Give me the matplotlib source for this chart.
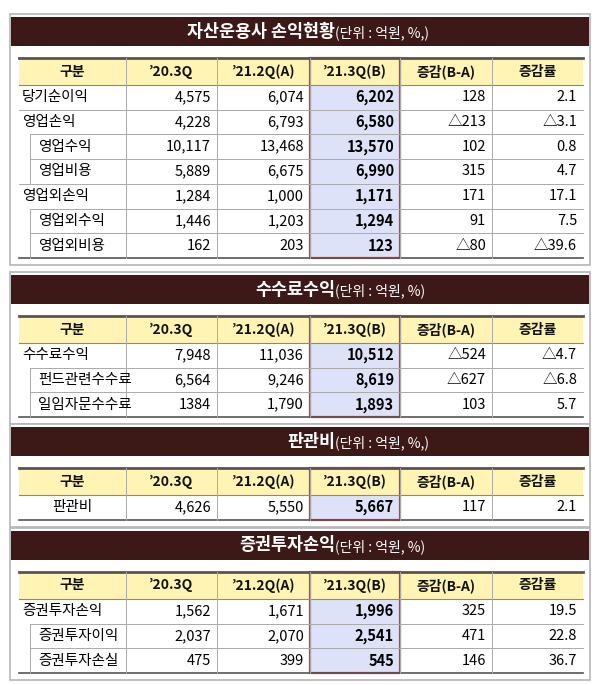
import matplotlib
matplotlib.use("Agg")
import matplotlib.pyplot as plt
from matplotlib.patches import Rectangle

plt.rcParams['font.family'] = ['Noto Sans CJK KR', 'DejaVu Sans']

headers = ['구분', '’20.3Q', '’21.2Q(A)', '’21.3Q(B)', '증감(B-A)', '증감률']

t1_title, t1_unit = '자산운용사 손익현황', '(단위 : 억원, %,)'
t1_labels = ['당기순이익', '영업손익', '영업수익', '영업비용', '영업외손익', '영업외수익', '영업외비용']
t1_sub = [False, False, True, True, False, True, True]
t1_q20 = ['4,575', '4,228', '10,117', '5,889', '1,284', '1,446', '162']
t1_a = ['6,074', '6,793', '13,468', '6,675', '1,000', '1,203', '203']
t1_b = ['6,202', '6,580', '13,570', '6,990', '1,171', '1,294', '123']
t1_d = ['128', '△213', '102', '315', '171', '91', '△80']
t1_r = ['2.1', '△3.1', '0.8', '4.7', '17.1', '7.5', '△39.6']

t2_title, t2_unit = '수수료수익', '(단위 : 억원, %)'
t2_labels = ['수수료수익', '펀드관련수수료', '일임자문수수료']
t2_sub = [False, True, True]
t2_q20 = ['7,948', '6,564', '1384']
t2_a = ['11,036', '9,246', '1,790']
t2_b = ['10,512', '8,619', '1,893']
t2_d = ['△524', '△627', '103']
t2_r = ['△4.7', '△6.8', '5.7']

t3_title, t3_unit = '판관비', '(단위 : 억원, %,)'
t3_labels = ['판관비']
t3_sub = [False]
t3_q20 = ['4,626']
t3_a = ['5,550']
t3_b = ['5,667']
t3_d = ['117']
t3_r = ['2.1']

t4_title, t4_unit = '증권투자손익', '(단위 : 억원, %)'
t4_labels = ['증권투자손익', '증권투자이익', '증권투자손실']
t4_sub = [False, True, True]
t4_q20 = ['1,562', '2,037', '475']
t4_a = ['1,671', '2,070', '399']
t4_b = ['1,996', '2,541', '545']
t4_d = ['325', '471', '146']
t4_r = ['19.5', '22.8', '36.7']

fig = plt.figure(figsize=(6, 6.85), dpi=100)
ax = fig.add_axes([0, 0, 1, 1])
ax.set_xlim(0, 600)
ax.set_ylim(685, 0)
ax.axis('off')

cols = [19, 126, 217, 310, 400, 492, 583]
BROWN = '#3c1816'
YEL = '#fff4b3'
LAV = '#dde2f8'
RED = '#f52a2a'
RH = 24.7
HH = 27

def panel(top, title, unit, labels, sub, q, a, b, d, r, center_label=False):
    nrows = len(labels)
    htop = top + 41
    bottom = htop + HH + nrows * RH
    ax.add_patch(Rectangle((10, top - 3), 580, bottom - top + 10, fc='white', ec='#b5b5b5', lw=1.2))
    ax.add_patch(Rectangle((11, top), 578, 29, fc=BROWN, ec='none'))
    ax.text(335, top + 14.5, title, color='white', fontsize=12.5, fontweight='bold',
            ha='right', va='center')
    ax.text(335, top + 15.5, unit, color='white', fontsize=10, ha='left', va='center')
    ax.add_patch(Rectangle((cols[0], htop), cols[-1] - cols[0], HH, fc=YEL, ec='none'))
    ax.add_patch(Rectangle((cols[3], htop + HH), cols[4] - cols[3], nrows * RH, fc=LAV, ec='none'))
    for i, h in enumerate(headers):
        ax.text((cols[i] + cols[i + 1]) / 2, htop + HH / 2, h, ha='center', va='center',
                fontsize=10, fontweight='bold', color='#111')
    ax.plot([cols[0], cols[-1]], [htop, htop], color='#555', lw=2)
    ax.plot([cols[0], cols[-1]], [htop + HH, htop + HH], color='#888', lw=0.8)
    ax.plot([cols[0], cols[-1]], [bottom, bottom], color='#555', lw=1.2)
    for c in cols[1:-1]:
        ax.plot([c, c], [htop, bottom], color='#aaa', lw=0.7)
    for j in range(nrows):
        y0 = htop + HH + j * RH
        yc = y0 + RH / 2
        if j > 0:
            x0 = 30 if sub[j] else cols[0]
            ax.plot([x0, cols[-1]], [y0, y0], color='#aaa', lw=0.7)
        if sub[j]:
            ax.plot([30, 30], [y0, y0 + RH], color='#aaa', lw=0.7)
            ax.text(38, yc, labels[j], ha='left', va='center', fontsize=10.5)
        elif center_label:
            ax.text((cols[0] + cols[1]) / 2, yc, labels[j], ha='center', va='center', fontsize=10.5)
        else:
            ax.text(22, yc, labels[j], ha='left', va='center', fontsize=10.5)
        vals = [q[j], a[j], b[j], d[j], r[j]]
        for k, v in enumerate(vals):
            ax.text(cols[k + 2] - 6, yc, v, ha='right', va='center', fontsize=10.5,
                    fontweight='bold' if k == 2 else 'normal')
    ax.add_patch(Rectangle((cols[3], htop), cols[4] - cols[3], bottom - htop,
                           fc='none', ec=RED, lw=1.6))

panel(17, t1_title, t1_unit, t1_labels, t1_sub, t1_q20, t1_a, t1_b, t1_d, t1_r)
panel(275, t2_title, t2_unit, t2_labels, t2_sub, t2_q20, t2_a, t2_b, t2_d, t2_r)
panel(427, t3_title, t3_unit, t3_labels, t3_sub, t3_q20, t3_a, t3_b, t3_d, t3_r, center_label=True)
panel(531, t4_title, t4_unit, t4_labels, t4_sub, t4_q20, t4_a, t4_b, t4_d, t4_r)

fig.savefig('out.png', dpi=100)
